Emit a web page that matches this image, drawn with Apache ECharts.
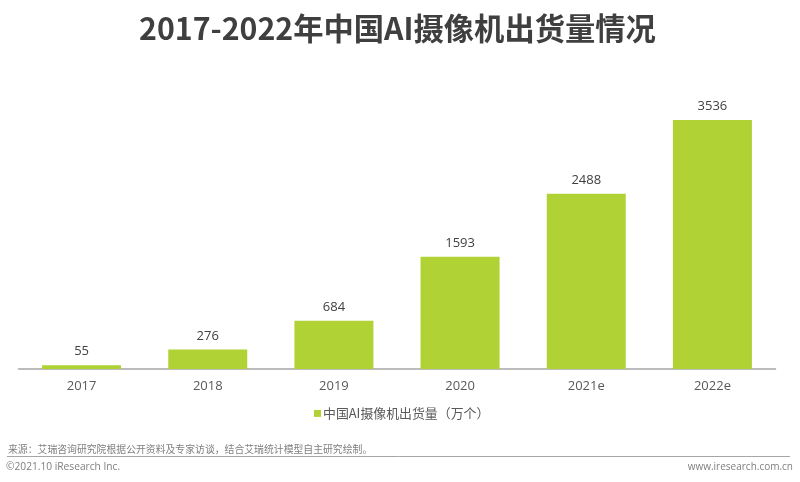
<!DOCTYPE html>
<html>
<head>
<meta charset="utf-8">
<script src="https://cdn.jsdelivr.net/npm/echarts@6/dist/echarts.min.js"></script>
<style>
  html, body { margin: 0; padding: 0; background: #fff; }
  #chart { width: 800px; height: 482px; }
</style>
</head>
<body>
<div id="chart"></div>
<script>
const years = ['2017', '2018', '2019', '2020', '2021e', '2022e'];
const shipments = [55, 276, 684, 1593, 2488, 3536];
const seriesName = '中国AI摄像机出货量（万个）';
const titleText = '2017-2022年中国AI摄像机出货量情况';
const sourceText = '来源：艾瑞咨询研究院根据公开资料及专家访谈，结合艾瑞统计模型自主研究绘制。';
const copyrightText = '©2021.10 iResearch Inc.';
const siteText = 'www.iresearch.com.cn';

const font = '"Noto Sans CJK SC", "Open Sans", sans-serif';
const latin = '"Open Sans", "Noto Sans CJK SC", sans-serif';

const chart = echarts.init(document.getElementById('chart'));
chart.setOption({
  animation: false,
  backgroundColor: '#fff',
  title: {
    text: titleText,
    left: 134,
    top: 8,
    textStyle: { fontFamily: font, fontSize: 30.3, fontWeight: 'bold', color: '#3f3f3f' }
  },
  legend: {
    data: [seriesName],
    left: 309,
    top: 402,
    itemWidth: 7,
    itemHeight: 7,
    icon: 'rect',
    textStyle: { fontFamily: font, fontSize: 12.9, color: '#595959', padding: [0, 0, 0, -3] }
  },
  grid: { left: 18.5, right: 24.5, top: 87.4, bottom: 113 },
  xAxis: {
    type: 'category',
    data: years,
    axisTick: { show: false },
    axisLine: { lineStyle: { color: '#a6a6a6', width: 1.5 } },
    axisLabel: { fontFamily: latin, fontSize: 13, color: '#595959', margin: 11 }
  },
  yAxis: { type: 'value', min: 0, max: 4000, show: false },
  series: [{
    name: seriesName,
    type: 'bar',
    data: shipments,
    barWidth: 79,
    itemStyle: { color: '#b0d235' },
    label: {
      show: true,
      position: 'top',
      distance: 7,
      fontFamily: latin,
      fontSize: 13,
      color: '#404040'
    }
  }],
  graphic: [
    { type: 'text', left: 8, top: 444, style: { text: sourceText, font: '9.86px ' + font, fill: '#7f7f7f' } },
    { type: 'line', shape: { x1: 7, y1: 456.5, x2: 790, y2: 456.5 }, style: { stroke: '#a6a6a6', lineWidth: 1 } },
    { type: 'text', left: 6, top: 462, style: { text: copyrightText, font: '10.2px ' + latin, fill: '#7f7f7f' } },
    { type: 'text', right: 7, top: 462, style: { text: siteText, font: '10px ' + latin, fill: '#7f7f7f' } }
  ]
});
</script>
</body>
</html>
